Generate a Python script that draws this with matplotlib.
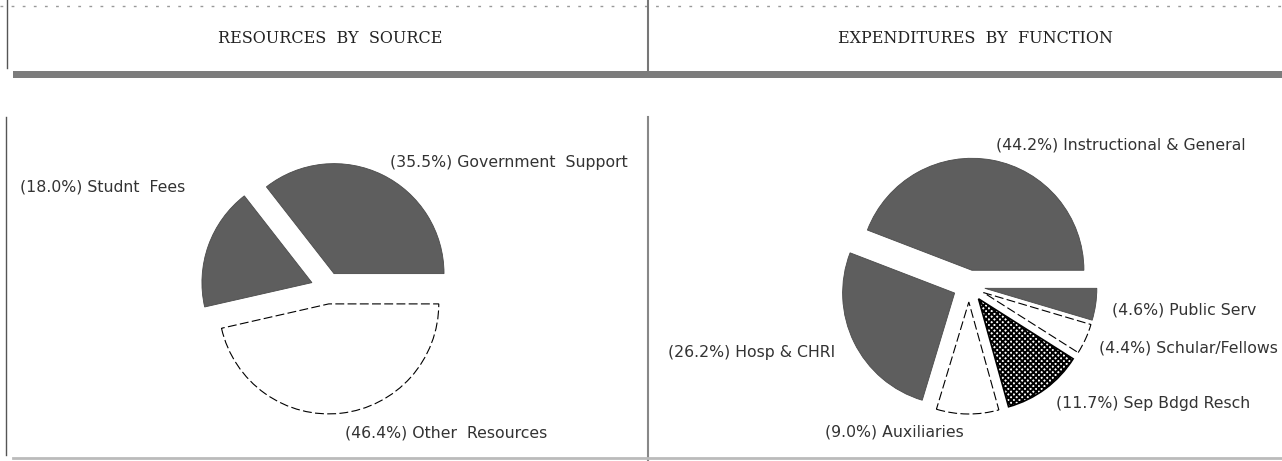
import matplotlib.pyplot as plt
from matplotlib.patches import Rectangle

# resources by source (percent)
res_names = ["Government  Support", "Studnt  Fees", "Other  Resources"]
res_pcts = [35.5, 18.0, 46.4]
res_colors = ["#5e5e5e", "#5e5e5e", "white"]

# expenditures by function (percent)
exp_names = ["Instructional & General", "Hosp & CHRI", "Auxiliaries",
             "Sep Bdgd Resch", "Schular/Fellows", "Public Serv"]
exp_pcts = [44.2, 26.2, 9.0, 11.7, 4.4, 4.6]
exp_colors = ["#5e5e5e", "#5e5e5e", "white", "white", "white", "#5e5e5e"]

W, H = 1282, 461
TXT = "#333333"
plt.rcParams['hatch.linewidth'] = 1.4

fig = plt.figure(figsize=(W / 100, H / 100), dpi=100)
ax = fig.add_axes([0, 0, 1, 1])


def sy(y):
    # screen pixel row -> data y
    return H - y


def draw_pie(vals, colors, center, radius, gap):
    wedges, _ = ax.pie(vals, colors=colors, startangle=0, counterclock=True,
                       explode=[gap] * len(vals), center=center, radius=radius,
                       wedgeprops=dict(edgecolor="#4a4a4a", linewidth=0.6))
    for w, c in zip(wedges, colors):
        if c == "white":
            w.set_edgecolor("black")
            w.set_linestyle((0, (8, 3)))
            w.set_linewidth(0.8)
    return wedges


draw_pie(res_pcts, res_colors, (327, sy(288)), 110, 16)
ew = draw_pie(exp_pcts, exp_colors, (969, sy(286)), 112, 16)
# research slice: dense black texture
ew[3].set_hatch("xxxxxx")
ew[3].set_linestyle("-")
ew[3].set_linewidth(1.2)

# labels
res_pos = [(390, 162), (20, 187), (345, 433)]
for n, p, (x, y) in zip(res_names, res_pcts, res_pos):
    ax.text(x, sy(y), f"({p:.1f}%) {n}", fontsize=11.3, color=TXT,
            family="DejaVu Sans", va="center", ha="left")

exp_pos = [(996, 145), (668, 353), (825, 432), (1056, 403), (1099, 348), (1112, 310)]
for n, p, (x, y) in zip(exp_names, exp_pcts, exp_pos):
    ax.text(x, sy(y), f"({p:.1f}%) {n}", fontsize=11.3, color=TXT,
            family="DejaVu Sans", va="center", ha="left")

# header titles
ax.text(330, sy(39), "RESOURCES  BY  SOURCE", fontsize=11.5, color="#222222",
        family="DejaVu Serif", ha="center", va="center")
ax.text(975, sy(39), "EXPENDITURES  BY  FUNCTION", fontsize=11.5, color="#222222",
        family="DejaVu Serif", ha="center", va="center")

# frame pieces from the scanned page
ax.add_patch(Rectangle((13, sy(78)), W - 13, 7, color="#7c7c7c", lw=0))
ax.plot([0, W], [sy(6), sy(6)], color="#999999", lw=1, ls=(0, (2, 6)))
ax.plot([7, 7], [sy(0), sy(68)], color="#555555", lw=1)
ax.plot([6, 6], [sy(117), sy(455)], color="#555555", lw=1)
ax.plot([648, 648], [sy(0), sy(70)], color="#777777", lw=1.5)
ax.plot([648, 648], [sy(117), sy(461)], color="#888888", lw=1.5)
ax.plot([13, W], [sy(458), sy(458)], color="#bbbbbb", lw=2)

ax.set_xlim(0, W)
ax.set_ylim(0, H)
ax.set_aspect("auto")
ax.axis("off")

fig.savefig("out.png", dpi=100)
